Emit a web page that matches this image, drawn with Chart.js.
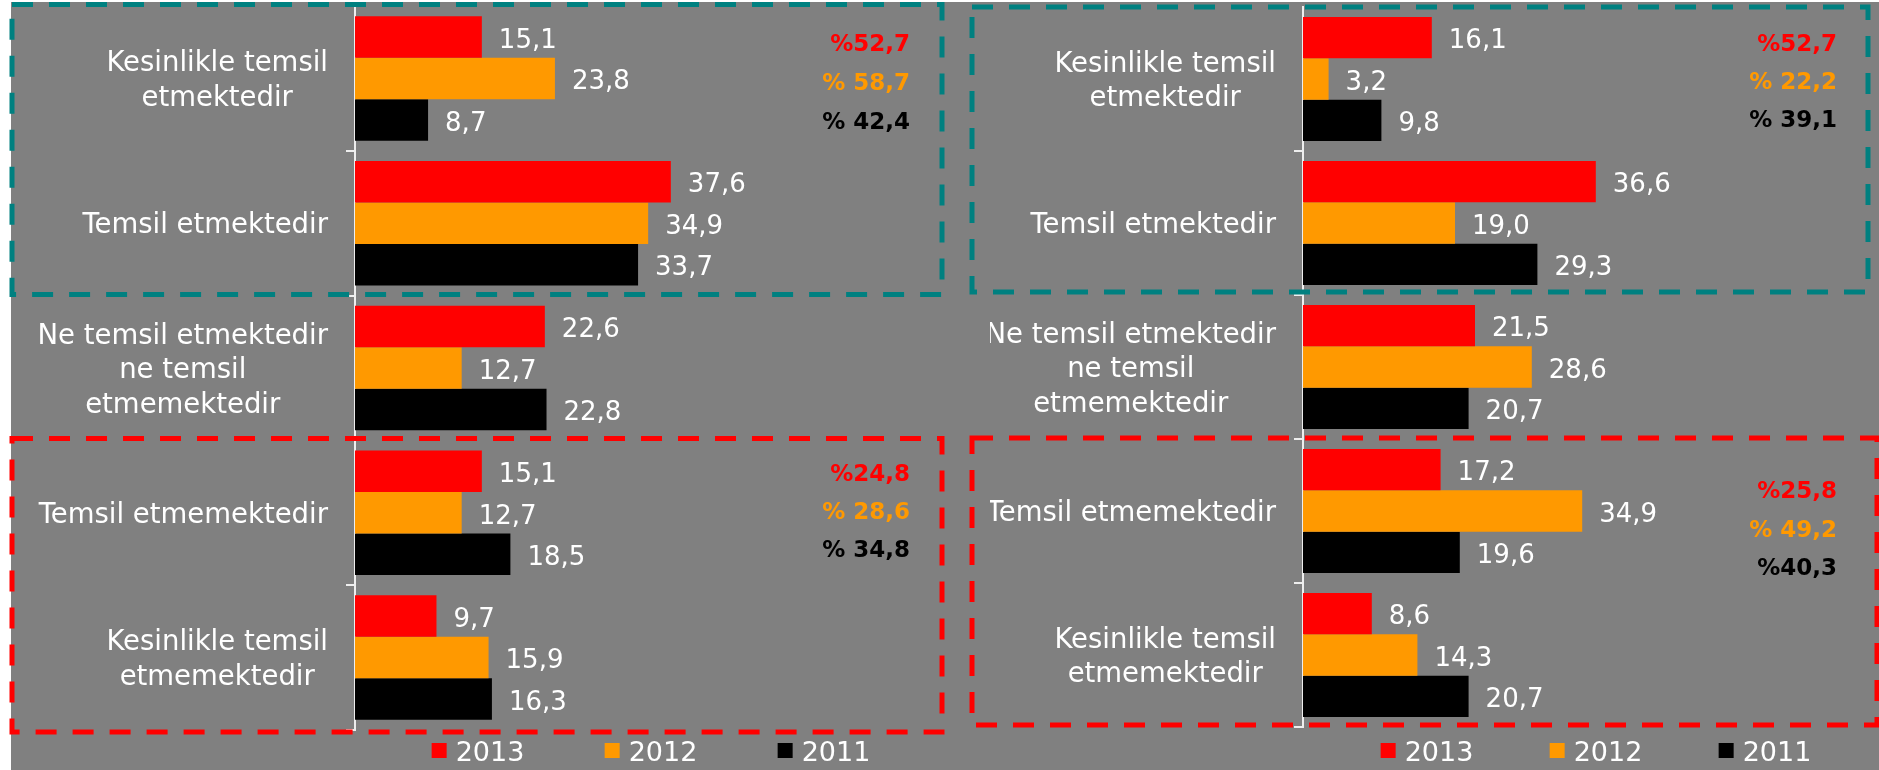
<!DOCTYPE html>
<html>
<head>
<meta charset="utf-8">
<script src="https://cdn.jsdelivr.net/npm/chart.js@4.4.1/dist/chart.umd.min.js"></script>
<style>
html, body { margin: 0; padding: 0; background: #fff; }
#stage { position: relative; width: 1879px; height: 770px; overflow: hidden; }
#bg { position: absolute; left: 11px; top: 2px; right: 0; bottom: 0; background: #808080; }
.pane { position: absolute; top: 0; height: 770px; }
#leftPane { left: 0; width: 960px; }
#rightPane { left: 960px; width: 919px; }
</style>
</head>
<body>
<div id="stage">
	<div id="bg"></div>
	<div class="pane" id="leftPane"><canvas id="chartLeft"></canvas></div>
	<div class="pane" id="rightPane"><canvas id="chartRight"></canvas></div>
</div>
<script>
//==========
// Data

const categories = [
	["Kesinlikle temsil", "etmektedir"],
	"Temsil etmektedir",
	["Ne temsil etmektedir", "ne temsil", "etmemektedir"],
	"Temsil etmemektedir",
	["Kesinlikle temsil", "etmemektedir"]
];
const years = ["2013", "2012", "2011"];

const left2013 = [15.1, 37.6, 22.6, 15.1, 9.7];
const left2012 = [23.8, 34.9, 12.7, 12.7, 15.9];
const left2011 = [8.7, 33.7, 22.8, 18.5, 16.3];

const right2013 = [16.1, 36.6, 21.5, 17.2, 8.6];
const right2012 = [3.2, 19.0, 28.6, 34.9, 14.3];
const right2011 = [9.8, 29.3, 20.7, 19.6, 20.7];

// totals written beside the dashed boxes (2013, 2012, 2011)
const leftTotalsTop = ["%52,7", "% 58,7", "% 42,4"];
const leftTotalsBottom = ["%24,8", "% 28,6", "% 34,8"];
const rightTotalsTop = ["%52,7", "% 22,2", "% 39,1"];
const rightTotalsBottom = ["%25,8", "% 49,2", "%40,3"];

const xMax = 70;

//==========
// Style

const yearColors = ["#ff0000", "#ff9900", "#000000"];
const FONT = "'DejaVu Sans', Verdana, sans-serif";
const TEXT_DY = 3;// canvas "middle" sits a bit high for this font

function fmt(v){
	return v.toFixed(1).replace(".", ",");
}

//==========
// Plugin: value labels, category labels, totals, legend, dashed boxes

const decor = {
	id: "decor",
	beforeDraw(chart, args, opts){
		const ctx = chart.ctx;
		ctx.save();
		ctx.beginPath();
		ctx.rect(opts.clipLeft, 0, chart.width - opts.clipLeft, chart.height);
		ctx.clip();
	},
	afterDatasetsDraw(chart){
		const ctx = chart.ctx;
		ctx.save();
		ctx.font = "26px " + FONT;
		ctx.fillStyle = "#ffffff";
		ctx.textAlign = "left";
		ctx.textBaseline = "middle";
		chart.data.datasets.forEach((ds, i)=>{
			chart.getDatasetMeta(i).data.forEach((bar, j)=>{
				ctx.fillText(fmt(ds.data[j]), bar.x + 17, bar.y + 1 + TEXT_DY);
			});
		});
		ctx.restore();
	},
	afterDraw(chart, args, opts){
		const ctx = chart.ctx;
		const y = chart.scales.y;
		const area = chart.chartArea;

		// category labels: block right-aligned, lines centered
		ctx.save();
		ctx.font = "27.5px " + FONT;
		ctx.fillStyle = "#ffffff";
		ctx.textAlign = "center";
		ctx.textBaseline = "middle";
		const lh = 34.5;
		chart.data.labels.forEach((label, i)=>{
			const lines = Array.isArray(label) ? label : [label];
			let w = 0;
			for(let s of lines) w = Math.max(w, ctx.measureText(s).width);
			const cx = y.right - 27 - w / 2;
			const top = y.getPixelForValue(i) - lines.length * lh / 2 + TEXT_DY;
			lines.forEach((s, k)=>{
				ctx.fillText(s, cx, top + lh * (k + 0.5));
			});
		});
		ctx.restore();

		// totals
		ctx.save();
		ctx.font = "bold 23px " + FONT;
		ctx.textAlign = "right";
		ctx.textBaseline = "middle";
		for(let g of opts.totals){
			const yc = y.getPixelForValue(g.cat) + g.dy + TEXT_DY;
			g.texts.forEach((t, k)=>{
				ctx.fillStyle = yearColors[k];
				ctx.fillText(t, area.right - opts.totalsInset, yc + (k - 1) * g.step);
			});
		}
		ctx.restore();

		// legend
		ctx.save();
		ctx.font = "27px " + FONT;
		ctx.textAlign = "left";
		ctx.textBaseline = "middle";
		const lastW = ctx.measureText(years[years.length - 1]).width;
		const groupW = (years.length - 1) * opts.legendStep + 15 + 9 + lastW;
		let lx = (area.left + area.right) / 2 + opts.legendShift - groupW / 2;
		const ly = opts.legendY;
		years.forEach((yr, k)=>{
			ctx.fillStyle = yearColors[k];
			ctx.fillRect(lx, ly - 7, 15, 15);
			ctx.fillStyle = "#ffffff";
			ctx.fillText(yr, lx + 24, ly + 1 + TEXT_DY);
			lx += opts.legendStep;
		});
		ctx.restore();

		// end of clip
		ctx.restore();

		// dashed boxes
		const half = (y.getPixelForValue(1) - y.getPixelForValue(0)) / 2;
		ctx.save();
		ctx.lineWidth = 5;
		ctx.setLineDash([21, 16]);
		for(let b of opts.boxes){
			const top = y.getPixelForValue(b.from) - half + b.dTop;
			const bottom = y.getPixelForValue(b.to) + half + b.dBottom;
			const x0 = opts.boxLeft;
			const x1 = chart.width - b.rightInset;
			ctx.strokeStyle = b.color;
			ctx.strokeRect(x0, top, x1 - x0, bottom - top);
		}
		ctx.restore();
	}
};

//==========
// Chart

function showChart(id, v2013, v2012, v2011, axisWidth, padding, decorOpts){
	const ctx = document.getElementById(id).getContext("2d");
	return new Chart(ctx, {
		type: "bar",
		data: {
			labels: categories,
			datasets: [
				{label: years[0], data: v2013, backgroundColor: yearColors[0]},
				{label: years[1], data: v2012, backgroundColor: yearColors[1]},
				{label: years[2], data: v2011, backgroundColor: yearColors[2]}
			]
		},
		options: {
			indexAxis: "y",
			responsive: true,
			maintainAspectRatio: false,
			animation: false,
			devicePixelRatio: 1,
			datasets: {
				bar: {
					barPercentage: 1.0,
					categoryPercentage: 0.86,
					borderWidth: 0
				}
			},
			layout: {padding: padding},
			scales: {
				x: {
					display: false,
					min: 0,
					max: xMax
				},
				y: {
					ticks: {display: false},
					grid: {
						display: true,
						drawOnChartArea: false,
						drawTicks: true,
						tickLength: 9,
						color: (c)=> c.index === 0 ? "rgba(0,0,0,0)" : "#eeeeee",
						lineWidth: 2
					},
					border: {display: true, color: "#eeeeee", width: 2},
					afterFit: (scale)=>{ scale.width = axisWidth; }
				}
			},
			plugins: {
				legend: {display: false},
				tooltip: {enabled: false},
				decor: decorOpts
			}
		},
		plugins: [decor]
	});
}

showChart("chartLeft", left2013, left2012, left2011, 355,
	{left: 0, right: 17, top: 6, bottom: 40},
	{
		clipLeft: 0,
		totalsInset: 33,
		totals: [
			{texts: leftTotalsTop, cat: 0, dy: 3, step: 39},
			{texts: leftTotalsBottom, cat: 3, dy: -3, step: 38}
		],
		legendY: 750,
		legendStep: 173,
		legendShift: 2,
		boxLeft: 12,
		boxes: [
			{from: 0, to: 1, color: "#008080", rightInset: 18, dTop: -1.5, dBottom: -1},
			{from: 3, to: 4, color: "#ff0000", rightInset: 18, dTop: -2, dBottom: 2}
		]
	});

showChart("chartRight", right2013, right2012, right2011, 343,
	{left: 0, right: 16, top: 7, bottom: 43},
	{
		clipLeft: 30,
		totalsInset: 26,
		totals: [
			{texts: rightTotalsTop, cat: 0, dy: 1, step: 38},
			{texts: rightTotalsBottom, cat: 3, dy: 17, step: 38.5}
		],
		legendY: 750,
		legendStep: 169,
		legendShift: 13,
		boxLeft: 12,
		boxes: [
			{from: 0, to: 1, color: "#008080", rightInset: 11, dTop: 0, dBottom: -3},
			{from: 3, to: 4, color: "#ff0000", rightInset: 2, dTop: -1, dBottom: -2}
		]
	});
</script>
</body>
</html>
